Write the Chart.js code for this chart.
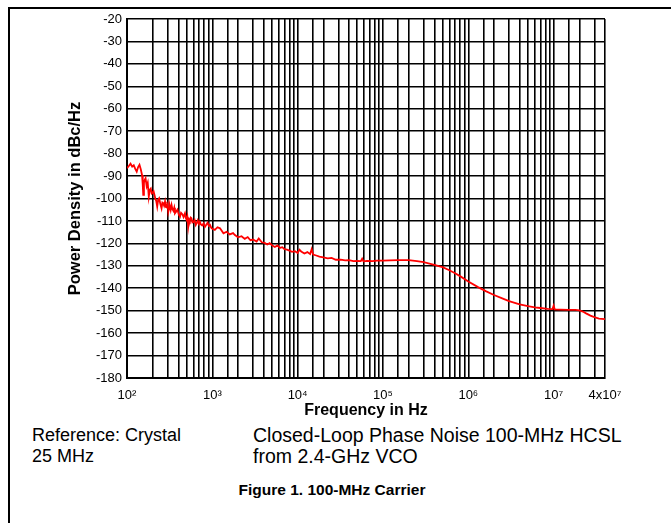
<!DOCTYPE html>
<html>
<head>
<meta charset="utf-8">
<script src="https://cdn.jsdelivr.net/npm/chart.js@4/dist/chart.umd.min.js"></script>
<style>
    body { margin: 0; background: #fff; font-family: "Liberation Sans", Arial, sans-serif; }
    #page { position: relative; width: 671px; height: 523px; overflow: hidden; }
    #frame { position: absolute; left: 8px; top: 7px; right: -4px; bottom: -4px; border-left: 2px solid #000; border-top: 2px solid #000; }
    #chartBox { position: absolute; left: 0; top: 0; width: 671px; height: 420px; }
    .note { position: absolute; line-height: 21px; color: #000; white-space: nowrap; }
    #caption { position: absolute; left: 0; width: 664px; top: 481px; text-align: center; font-weight: bold; font-size: 15.5px; }
</style>
</head>
<body>
<div id="page">
    <div id="frame"></div>
    <div id="chartBox"><canvas id="noiseChart" width="671" height="420"></canvas></div>
    <div class="note" style="left:32px; top:425px; font-size:18px;">Reference: Crystal<br>25 MHz</div>
    <div class="note" style="left:253px; top:425px; font-size:19.5px;">Closed-Loop Phase Noise 100-MHz HCSL<br>from 2.4-GHz VCO</div>
    <div id="caption">Figure 1. 100-MHz Carrier</div>
</div>
<script>
//频率 (Hz)
var freqHz = [
    100, 105, 110, 115, 120, 125, 130, 135, 140, 145,
    150, 153, 155, 158, 160, 165, 170, 175, 180, 185,
    190, 195, 200, 205, 210, 215, 220, 226, 232, 238,
    246, 254, 260, 265, 272, 279, 285, 292, 300, 305,
    312, 318, 325, 333, 340, 350, 358, 365, 378, 390,
    405, 418, 430, 445, 460, 478, 490, 500, 510, 522,
    535, 545, 558, 570, 585, 600, 620, 640, 658, 675,
    695, 714, 735, 760, 790, 820, 850, 880, 910, 940,
    970, 1000, 1070, 1150, 1230, 1350, 1470, 1600, 1750, 1840,
    2000, 2200, 2400, 2600, 2800, 3000, 3300, 3500, 3800, 4100,
    4400, 4700, 5000, 5400, 5800, 6200, 6600, 7000, 7500, 8000,
    8600, 9300, 10000, 10500, 11000, 12000, 13000, 14000, 14600, 15200,
    16500, 18000, 20000, 22500, 25000, 28000, 32000, 36000, 40000, 45000,
    50000, 55000, 57000, 59000, 65000, 75000, 85000, 100000, 120000, 150000,
    200000, 250000, 300000, 350000, 400000, 450000, 500000, 600000, 700000, 800000,
    1000000, 1300000, 1600000, 2000000, 2500000, 3000000, 4000000, 5000000, 6000000, 7000000,
    8500000, 9700000, 10000000, 10300000, 12000000, 15000000, 18000000, 20000000, 22000000, 24000000,
    27000000, 30000000, 34000000, 40000000
];
//相位噪声 (dBc/Hz)
var noiseDbc = [
    -86.5, -85.5, -84.5, -85.8, -85.2, -86.8, -88, -86, -85, -87,
    -89.5, -94, -98.4, -93, -92, -91, -94.5, -93, -99.2, -96,
    -95.5, -97.8, -97.5, -96.8, -98.4, -100.2, -101, -103.6, -100.5, -99.9,
    -102.5, -104.4, -101.8, -102, -103.2, -101.4, -103.8, -104, -102.6, -105.9,
    -104.2, -103.5, -105.1, -102.9, -104.6, -105.5, -104.1, -106.6, -105.8, -105,
    -107.2, -108.1, -106.4, -107, -108.3, -106.6, -108.8, -109.5, -108.2, -112.6,
    -109.4, -110, -108.5, -108.8, -110.7, -110.5, -109.6, -111.8, -110.9, -109.8,
    -111.3, -110.3, -111.6, -112, -111.1, -112.6, -111.7, -110.8, -112.2, -111.8,
    -113, -113.5, -114, -112.8, -113.3, -115.5, -114.8, -116, -115.4, -116.3,
    -117.3, -116.8, -118, -117.2, -118.6, -118.3, -119.2, -117.8, -119.5, -119.8,
    -120.5, -119.9, -120.8, -121.6, -120.9, -122, -121.7, -122.6, -122.8, -123.2,
    -123.8, -123.5, -124.3, -122.8, -123.6, -124.5, -123.9, -124.8, -122.6, -125,
    -125.4, -125.9, -126.2, -126.7, -126.5, -127.3, -127.2, -127.6, -127.5, -127.9,
    -127.8, -127.9, -126.8, -128, -127.8, -127.9, -127.7, -127.7, -127.6, -127.5,
    -127.5, -127.9, -128.4, -129, -129.6, -130.1, -130.6, -132, -133.3, -134.6,
    -137, -139.5, -141.3, -143, -144.5, -145.7, -147.2, -148, -148.5, -148.8,
    -149.2, -149.3, -147.8, -149.4, -149.5, -149.6, -149.6, -149.9, -150.4, -151.2,
    -152.2, -152.9, -153.5, -153.8
];
//坐标轴范围
var xMin = 100;
var xMax = 40000000;
var yMin = -180;
var yMax = -20;
var yStep = 10;
//十年刻度标签
var decadeLabels = { 100: "10²", 1000: "10³", 10000: "10⁴", 100000: "10⁵", 1000000: "10⁶", 10000000: "10⁷", 40000000: "4x10⁷" };

function initChart() {
    var points = [];
    for (var i = 0; i < freqHz.length; i++) {
        points.push({ x: freqHz[i], y: noiseDbc[i] });
    }
    var ctx = document.getElementById("noiseChart").getContext("2d");
    new Chart(ctx, {
        type: "line",
        data: {
            datasets: [{
                data: points,
                borderColor: "#ff0000",
                borderWidth: 1.8,
                pointRadius: 0,
                tension: 0,
                fill: false
            }]
        },
        options: {
            responsive: false,
            animation: false,
            layout: { padding: { top: 19, right: 66, left: 0, bottom: 0 } },
            plugins: { legend: { display: false }, tooltip: { enabled: false } },
            scales: {
                x: {
                    type: "logarithmic",
                    min: xMin,
                    max: xMax,
                    afterFit: function (scale) { scale.height = 42; },
                    grid: { color: "#000", lineWidth: 1.6, drawTicks: false },
                    border: { color: "#000", width: 2 },
                    ticks: {
                        autoSkip: false,
                        maxRotation: 0,
                        padding: 10,
                        color: "#000",
                        font: { family: "'Liberation Sans', Arial, sans-serif", size: 13 },
                        callback: function (value) { return decadeLabels[value] || ""; }
                    },
                    title: {
                        display: true,
                        text: "Frequency in Hz",
                        color: "#000",
                        font: { family: "'Liberation Sans', Arial, sans-serif", size: 16, weight: "bold" },
                        padding: { top: 0, bottom: 0 }
                    }
                },
                y: {
                    min: yMin,
                    max: yMax,
                    afterFit: function (scale) { scale.width = 127; },
                    grid: { color: "#000", lineWidth: 1.6, drawTicks: false },
                    border: { color: "#000", width: 2 },
                    ticks: {
                        stepSize: yStep,
                        padding: 5,
                        color: "#000",
                        font: { family: "'Liberation Sans', Arial, sans-serif", size: 13 }
                    },
                    title: {
                        display: true,
                        text: "Power Density in dBc/Hz",
                        color: "#000",
                        font: { family: "'Liberation Sans', Arial, sans-serif", size: 16.5, weight: "bold" },
                        padding: { top: 66, bottom: 0 }
                    }
                }
            }
        }
    });
}

initChart();
</script>
</body>
</html>
